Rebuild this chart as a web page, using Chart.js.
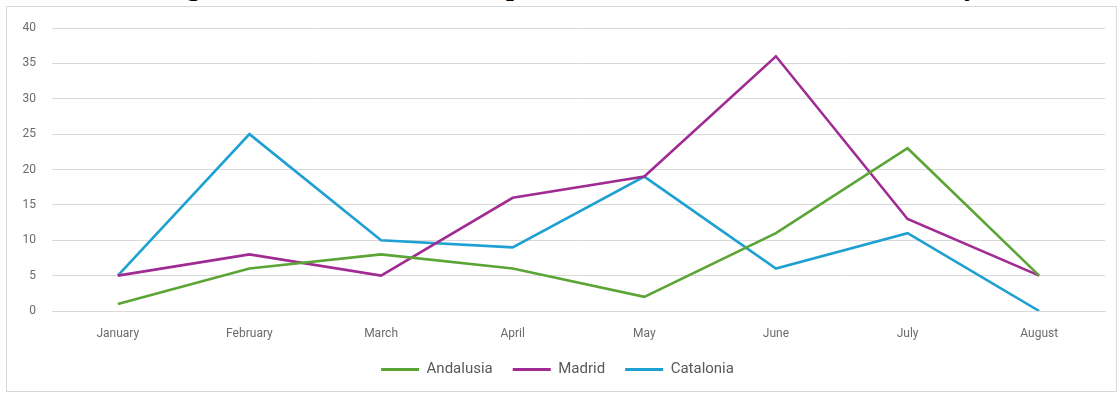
<!DOCTYPE html>
<html lang="en">

<head>
    <meta charset="UTF-8">
    <title>Monthly count by autonomous community</title>
    <script src="https://cdn.jsdelivr.net/npm/chart.js"></script>
    <style>
        html, body { margin: 0; padding: 0; background: #fff; overflow: hidden; }
        #page { position: relative; width: 1120px; height: 394px; overflow: hidden; }
        #title {
            position: absolute; left: 10px; top: -28px; width: 1120px; text-align: center;
            font: bold 28px "Liberation Serif", serif; line-height: 28px; color: #000;
        }
        #frame {
            position: absolute; left: 6px; top: 6px; width: 1111px; height: 386px;
            box-sizing: border-box; border: 1px solid #d9d9d9; background: #fff;
        }
        #box { position: absolute; left: 0; top: 0; width: 1120px; height: 394px; }
    </style>
</head>

<body>
    <div id="page">
        <div id="title">Figure 1. Number of visitors per month and autonomous community</div>
        <div id="frame"></div>
        <div id="box"><canvas id="myChart01"></canvas></div>
    </div>
    <script>
        // months on the x axis
        var months = ['January', 'February', 'March', 'April', 'May', 'June', 'July', 'August'];
        // one array per community
        var andalusia = [1, 6, 8, 6, 2, 11, 23, 5];
        var madrid = [5, 8, 5, 16, 19, 36, 13, 5];
        var catalonia = [5, 25, 10, 9, 19, 6, 11, 0];
        var yTicks = [0, 5, 10, 15, 20, 25, 30, 35, 40];

        var labelFont = { family: 'Roboto, "Liberation Sans", sans-serif', size: 12 };

        function line(name, values, color) {
            return {
                label: name,
                data: values,
                borderColor: color,
                backgroundColor: color,
                borderWidth: 2.6,
                pointRadius: 0,
                tension: 0
            };
        }

        const ctx01 = document.getElementById('myChart01');
        var mychart01 = new Chart(ctx01, {
            type: 'line',
            data: {
                labels: months,
                datasets: [
                    line('Andalusia', andalusia, '#5ba536'),
                    line('Madrid', madrid, '#a02b93'),
                    line('Catalonia', catalonia, '#1ea0d2')
                ]
            },
            options: {
                responsive: true,
                maintainAspectRatio: false,
                animation: false,
                layout: { padding: { left: 10, right: 15, top: 28, bottom: 7 } },
                scales: {
                    x: {
                        offset: true,
                        grid: { display: false, drawTicks: false },
                        border: { display: true, color: '#d9d9d9' },
                        ticks: { color: '#6b6b6b', font: labelFont, padding: 16, maxRotation: 0 },
                        afterFit: function (s) { s.height = 31; }
                    },
                    y: {
                        min: 0,
                        max: 40,
                        afterBuildTicks: function (s) {
                            s.ticks = yTicks.map(function (v) { return { value: v }; });
                        },
                        grid: { color: '#d9d9d9', drawTicks: false },
                        border: { display: false },
                        ticks: { color: '#6b6b6b', font: labelFont, padding: 16 },
                        afterFit: function (s) { s.width = 42; }
                    }
                },
                plugins: {
                    tooltip: { enabled: false },
                    legend: {
                        position: 'bottom',
                        labels: {
                            color: '#595959',
                            font: { family: 'Roboto, "Liberation Sans", sans-serif', size: 15 },
                            boxWidth: 38,
                            boxHeight: 3,
                            padding: 20,
                            generateLabels: function (chart) {
                                return Chart.defaults.plugins.legend.labels.generateLabels(chart).map(function (item) {
                                    item.lineWidth = 0;
                                    item.fillStyle = chart.data.datasets[item.datasetIndex].borderColor;
                                    return item;
                                });
                            }
                        }
                    }
                }
            }
        });
    </script>
</body>

</html>
